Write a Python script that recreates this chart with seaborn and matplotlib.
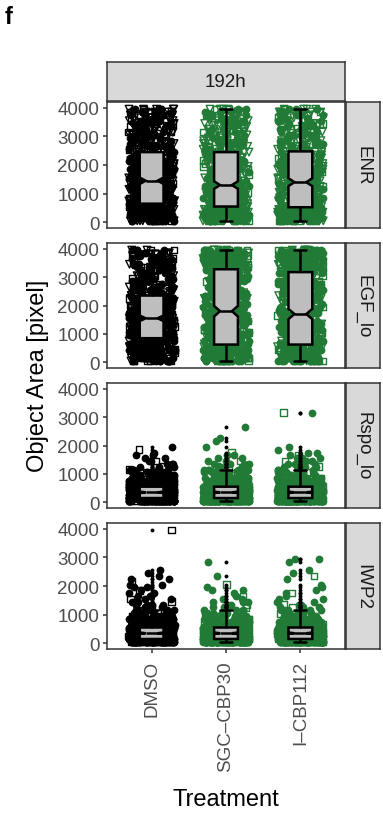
import numpy as np
import pandas as pd
import matplotlib
matplotlib.use("Agg")
import matplotlib.pyplot as plt
import seaborn as sns

# ---------------- data ----------------
CONDITIONS = ["ENR", "EGF_lo", "Rspo_lo", "IWP2"]
TREATMENTS = ["DMSO", "SGC\u2013CBP30", "I\u2013CBP112"]
TIMEPOINT = "192h"
Y_TICKS = [0, 1000, 2000, 3000, 4000]
BIN_WIDTH = 100  # object-area bins (pixel) used for the point counts below

# number of objects per 100-pixel area bin (bin 0 = 0-100, bin 1 = 100-200, ...)
ENR_DMSO = [25, 25, 25, 25, 25, 25, 22, 18, 18, 18, 18, 18, 18, 18, 18, 18,
            18, 18, 18, 18, 18, 18, 18, 10, 10, 10, 10, 10, 10, 10, 10, 10,
            10, 10, 10, 10, 10, 10, 10, 10]
ENR_SGC = [25, 25, 25, 25, 25, 17, 17, 16, 16, 15, 15, 15, 15, 12, 12, 11,
           11, 10, 10, 10, 10, 10, 10, 10, 10, 9, 9, 9, 9, 9, 8, 8,
           8, 8, 8, 8, 8, 8, 8, 8]
ENR_ICBP = [25, 25, 25, 25, 25, 15, 15, 14, 14, 14, 14, 13, 13, 13, 12, 12,
            12, 12, 11, 11, 11, 11, 11, 11, 11, 9, 9, 9, 9, 9, 8, 8,
            8, 8, 8, 8, 8, 8, 8, 8]
EGF_DMSO = [18, 18, 18, 18, 18, 18, 18, 17, 20, 20, 21, 21, 21, 20, 21, 18,
            18, 18, 18, 18, 18, 18, 17, 9, 9, 9, 9, 9, 9, 9, 9, 9,
            8, 8, 8, 8, 8, 8, 8, 8]
EGF_SGC = [21, 21, 21, 21, 21, 20, 11, 11, 11, 11, 11, 10, 10, 10, 10, 10,
           10, 10, 9, 9, 9, 9, 9, 8, 8, 8, 8, 8, 8, 8, 8, 8,
           8, 18, 18, 18, 18, 18, 18, 17]
EGF_ICBP = [21, 21, 21, 21, 21, 20, 12, 12, 12, 12, 11, 11, 11, 11, 11, 11,
            11, 9, 9, 9, 9, 9, 8, 8, 8, 8, 8, 8, 8, 8, 8, 8,
            16, 16, 16, 16, 16, 15, 15, 15]
RSPO_DMSO = [70, 100, 100, 80, 55, 40, 30, 22, 16, 12, 8, 6, 4, 3, 3, 2,
             2, 1, 1, 1]
RSPO_SGC = [75, 95, 100, 80, 60, 42, 30, 22, 15, 11, 8, 6, 5, 4, 3, 2,
            2, 1, 0, 1, 0, 1, 1, 0, 0, 0, 1]
RSPO_ICBP = [75, 95, 100, 80, 60, 42, 30, 22, 15, 11, 8, 6, 5, 4, 3, 3,
             2, 2, 1, 1, 0, 0, 0, 0, 0, 0, 0, 0, 0, 0, 0, 2]
IWP2_DMSO = [60, 100, 110, 95, 65, 45, 32, 24, 17, 12, 9, 7, 5, 4, 4, 3,
             3, 2, 2, 2, 2, 1, 2, 1, 1, 1, 0, 0, 0, 0, 0, 0,
             0, 0, 0, 0, 0, 0, 0, 1]
IWP2_SGC = [75, 100, 105, 85, 60, 40, 28, 20, 14, 10, 7, 5, 4, 3, 3, 2,
            2, 1, 2, 1, 1, 0, 0, 1, 0, 0, 0, 0, 1]
IWP2_ICBP = [75, 100, 105, 85, 60, 40, 28, 20, 14, 10, 7, 5, 4, 3, 2, 2,
             1, 2, 1, 1, 1, 0, 1, 1, 1, 1, 0, 0, 1, 2]

COUNTS = {
    ("ENR", 0): ENR_DMSO, ("ENR", 1): ENR_SGC, ("ENR", 2): ENR_ICBP,
    ("EGF_lo", 0): EGF_DMSO, ("EGF_lo", 1): EGF_SGC, ("EGF_lo", 2): EGF_ICBP,
    ("Rspo_lo", 0): RSPO_DMSO, ("Rspo_lo", 1): RSPO_SGC, ("Rspo_lo", 2): RSPO_ICBP,
    ("IWP2", 0): IWP2_DMSO, ("IWP2", 1): IWP2_SGC, ("IWP2", 2): IWP2_ICBP,
}

# ---------------- styling ----------------
COLORS = {TREATMENTS[0]: "#000000", TREATMENTS[1]: "#217A35", TREATMENTS[2]: "#217A35"}
SHAPE_CYCLE = {
    "ENR": ["v", "o", "v", "s", "o", "v"],
    "EGF_lo": ["o", "s", "v", "o"],
    "Rspo_lo": ["o", "o", "s", "o", "o", "o"],
    "IWP2": ["o", "o", "o", "s", "o", "o"],
}
BOX_FILL = "#BEBEBE"
STRIP_FILL = "#D9D9D9"
FRAME = "#333333"
TICK_TXT = "#4D4D4D"

rows = []
for (cond, ti), cnt in COUNTS.items():
    centers = np.arange(len(cnt)) * BIN_WIDTH + BIN_WIDTH / 2
    vals = np.repeat(centers, cnt)
    cyc = SHAPE_CYCLE[cond]
    for i, v in enumerate(vals):
        rows.append((cond, TREATMENTS[ti], v, cyc[i % len(cyc)]))
df = pd.DataFrame(rows, columns=["condition", "treatment", "area", "marker"])

sns.set_style("white")
plt.rcParams["font.family"] = ["Liberation Sans", "DejaVu Sans"]
np.random.seed(7)

W, H = 383, 820
fig = plt.figure(figsize=(W / 100, H / 100), dpi=100)


def fbox(x0, y0, x1, y1):
    return [x0 / W, 1 - y1 / H, (x1 - x0) / W, (y1 - y0) / H]


PX0, PX1 = 107, 345
TOPS = [103, 244, 384, 524]
BOTS = [229, 369, 509, 650]

MARKER_STYLE = {"o": (True, 5.6), "s": (False, 4.8), "v": (False, 5.4)}

for k, cond in enumerate(CONDITIONS):
    ax = fig.add_axes(fbox(PX0, TOPS[k], PX1, BOTS[k]))
    sub = df[df["condition"] == cond]
    for trt in TREATMENTS:
        for mk in ["o", "v", "s"]:
            filled, size = MARKER_STYLE[mk]
            d = sub[(sub["marker"] == mk) & (sub["treatment"] == trt)]
            if d.empty:
                continue
            kw = dict(marker=mk, size=size, jitter=0.31, zorder=1,
                      color=COLORS[trt], edgecolor=COLORS[trt])
            if filled:
                kw["linewidth"] = 0
            else:
                kw["linewidth"] = 1.0
                kw["facecolors"] = "none"
            sns.stripplot(data=d, x="treatment", y="area", order=TREATMENTS,
                          ax=ax, **kw)
    sns.boxplot(data=sub, x="treatment", y="area", order=TREATMENTS,
                color=BOX_FILL, saturation=1, linecolor="black", linewidth=1.8,
                width=0.32, notch=True, fliersize=1.8,
                flierprops=dict(marker="o", markerfacecolor="black",
                                markeredgecolor="black"),
                ax=ax)
    ax.set_xlim(-0.6, 2.6)
    ax.set_ylim(-200, 4200)
    ax.set_yticks(Y_TICKS)
    ax.set_yticklabels([str(t) for t in Y_TICKS])
    ax.set_xlabel("")
    ax.set_ylabel("")
    ax.set_facecolor("white")
    for s in ax.spines.values():
        s.set_visible(True)
        s.set_color(FRAME)
        s.set_linewidth(1.1)
    ax.tick_params(axis="y", left=True, length=3, width=1.1, color=FRAME,
                   labelcolor=TICK_TXT, labelsize=13.5, pad=2.5)
    if k < len(CONDITIONS) - 1:
        ax.tick_params(axis="x", bottom=False, labelbottom=False)
    else:
        ax.tick_params(axis="x", bottom=True, length=3, width=1.1, color=FRAME,
                       labelcolor=TICK_TXT, labelsize=13.5, pad=5)
        for lab in ax.get_xticklabels():
            lab.set_rotation(90)
            lab.set_va("top")
            lab.set_ha("center")
    ax.grid(False)

    # right strip
    sax = fig.add_axes(fbox(PX1 + 1, TOPS[k], 380, BOTS[k]))
    sax.set_facecolor(STRIP_FILL)
    sax.set_xticks([]); sax.set_yticks([])
    for s in sax.spines.values():
        s.set_color(FRAME); s.set_linewidth(1.1)
    sax.text(0.5, 0.5, cond, rotation=-90, ha="center", va="center",
             fontsize=13.5, color="#1A1A1A", transform=sax.transAxes)

# top strip
tax = fig.add_axes(fbox(PX0, 63, PX1, 102))
tax.set_facecolor(STRIP_FILL)
tax.set_xticks([]); tax.set_yticks([])
for s in tax.spines.values():
    s.set_color(FRAME); s.set_linewidth(1.1)
tax.text(0.5, 0.5, TIMEPOINT, ha="center", va="center", fontsize=13.5,
         color="#1A1A1A", transform=tax.transAxes)

fig.text(38 / W, 1 - 376 / H, "Object Area [pixel]", rotation=90, ha="center",
         va="center", fontsize=17, color="black")
fig.text(226 / W, 1 - 800 / H, "Treatment", ha="center", va="center",
         fontsize=17, color="black")
fig.text(5 / W, 1 - 18 / H, "f", ha="left", va="center", fontsize=17,
         fontweight="bold", color="black")

fig.savefig("out.png", dpi=100)
